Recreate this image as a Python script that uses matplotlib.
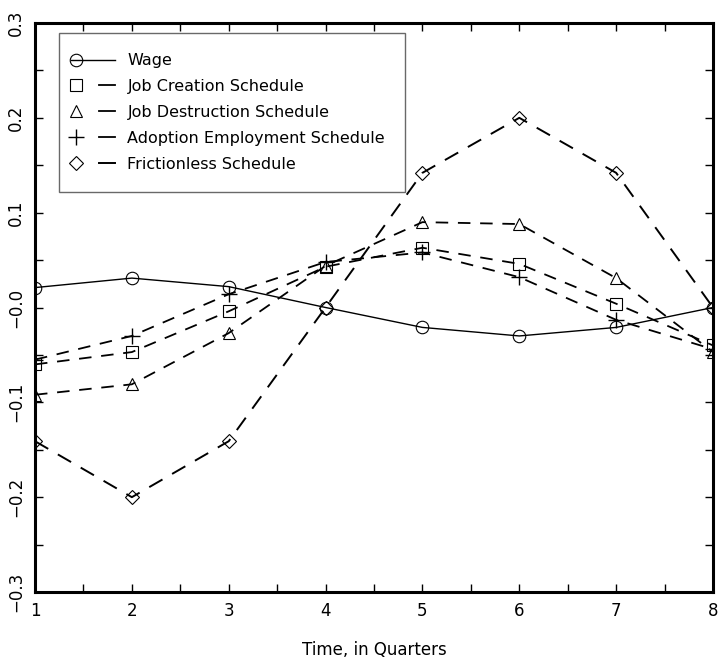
import matplotlib
matplotlib.use('Agg')
import matplotlib.pyplot as plt
from matplotlib.lines import Line2D
from matplotlib.legend_handler import HandlerLine2D
from matplotlib.ticker import MultipleLocator, FixedLocator

# Значения
quarters = [1, 2, 3, 4, 5, 6, 7, 8]
wage = [0.021, 0.031, 0.022, 0.000, -0.021, -0.030, -0.021, 0.000]
job_creation = [-0.060, -0.047, -0.004, 0.043, 0.063, 0.046, 0.004, -0.040]
job_destruction = [-0.092, -0.081, -0.027, 0.044, 0.090, 0.088, 0.031, -0.047]
adoption = [-0.055, -0.030, 0.014, 0.048, 0.058, 0.032, -0.013, -0.044]
frictionless = [-0.141, -0.200, -0.141, 0.000, 0.142, 0.200, 0.142, 0.000]

series_names = ['Wage', 'Job Creation Schedule', 'Job Destruction Schedule',
                'Adoption Employment Schedule', 'Frictionless Schedule']
y_ticks = [-0.3, -0.2, -0.1, 0.0, 0.1, 0.2, 0.3]
y_tick_labels = ['\u22120.3', '\u22120.2', '\u22120.1', '\u22120.0', '0.1', '0.2', '0.3']

plt.rcParams['font.family'] = ['DejaVu Sans']
plt.rcParams['lines.scale_dashes'] = False


class HandlerMarkerLeft(HandlerLine2D):
    # маркер слева, линия (или один штрих) справа, как в исходной легенде
    def create_artists(self, legend, orig_handle, xdescent, ydescent,
                       width, height, fontsize, trans):
        y = height / 2 - ydescent
        x0 = -xdescent
        solid = orig_handle.get_linestyle() in ('-', 'solid')
        start = x0 - 0.22 * width if solid else x0 + 0.54 * width
        line = Line2D([start, x0 + width], [y, y])
        self.update_prop(line, orig_handle, legend)
        line.set_marker('None')
        line.set_linestyle('-')
        mark = Line2D([x0 - 0.08 * width], [y])
        self.update_prop(mark, orig_handle, legend)
        mark.set_linestyle('None')
        line.set_transform(trans)
        mark.set_transform(trans)
        return [line, mark]


fig = plt.figure(figsize=(7.22, 6.66), dpi=100)
ax = fig.add_axes([35 / 722, 1 - 592 / 666, (713 - 35) / 722, (592 - 23) / 666])

dash = (9, 7)
mk = dict(markersize=8, markerfacecolor='none', markeredgecolor='black', markeredgewidth=0.8)

ax.plot(quarters, wage, color='black', lw=1.0, marker='o', label=series_names[0],
        **dict(mk, markersize=9))
ax.plot(quarters, job_creation, color='black', lw=1.3, dashes=dash, marker='s',
        label=series_names[1], **mk)
ax.plot(quarters, job_destruction, color='black', lw=1.3, dashes=dash, marker='^',
        label=series_names[2], **dict(mk, markersize=9))
ax.plot(quarters, adoption, color='black', lw=1.3, dashes=dash, marker='+',
        label=series_names[3], **dict(mk, markersize=11, markeredgewidth=1.0))
ax.plot(quarters, frictionless, color='black', lw=1.4, dashes=(11, 8), marker='D',
        label=series_names[4], **dict(mk, markersize=7))

ax.set_xlim(1, 8)
ax.set_ylim(-0.3, 0.3)
ax.xaxis.set_major_locator(MultipleLocator(1))
ax.xaxis.set_minor_locator(MultipleLocator(0.5))
ax.yaxis.set_major_locator(FixedLocator(y_ticks))
ax.yaxis.set_minor_locator(MultipleLocator(0.05))
ax.set_yticklabels(y_tick_labels, rotation=90, va='center')
ax.tick_params(which='both', direction='in', length=6, width=1,
               top=True, right=True, labelsize=12, pad=7)
ax.tick_params(axis='y', pad=7)
for side in ax.spines.values():
    side.set_linewidth(2.2)

ax.set_xlabel('Time, in Quarters', fontsize=12, labelpad=15)

handles, labels = ax.get_legend_handles_labels()
leg = ax.legend(handles, labels, loc='upper left', bbox_to_anchor=(0.035, 0.982),
                borderaxespad=0, fontsize=11.5, handlelength=2.3, handletextpad=0.75,
                labelspacing=0.68, borderpad=1.25, fancybox=False,
                handler_map={Line2D: HandlerMarkerLeft()})
leg.get_frame().set_edgecolor('#444444')
leg.get_frame().set_linewidth(1.0)

fig.savefig('out.png', dpi=100)
